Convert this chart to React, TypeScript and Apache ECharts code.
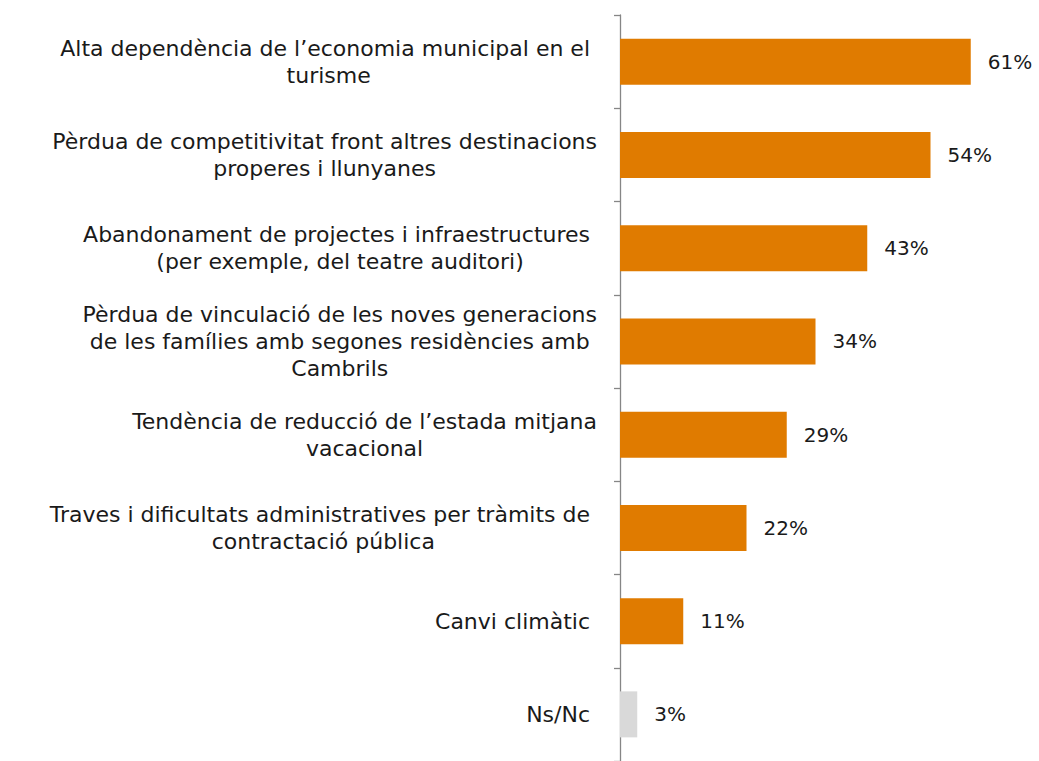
import React, { useEffect, useRef } from "react";
import * as echarts from "echarts";

const categories: string[] = [
  "Alta dependència de l’economia municipal en el \nturisme",
  "Pèrdua de competitivitat front altres destinacions\nproperes i llunyanes",
  "Abandonament de projectes i infraestructures \n(per exemple, del teatre auditori)",
  "Pèrdua de vinculació de les noves generacions\nde les famílies amb segones residències amb\nCambrils",
  "Tendència de reducció de l’estada mitjana\nvacacional",
  "Traves i dificultats administratives per tràmits de \ncontractació pública",
  "Canvi climàtic ",
  "Ns/Nc ",
];
const values: number[] = [61, 54, 43, 34, 29, 22, 11, 3];
const barColors: string[] = ["#E07B00", "#E07B00", "#E07B00", "#E07B00", "#E07B00", "#E07B00", "#E07B00", "#D9D9D9"];

const FONT = "'DejaVu Sans', sans-serif";

export default function App() {
  const ref = useRef<HTMLDivElement>(null);
  useEffect(() => {
    if (!ref.current) return;
    const chart = echarts.init(ref.current, undefined, { renderer: "svg" });
    chart.setOption({
      animation: false,
      backgroundColor: "#ffffff",
      grid: { left: 620, top: 15, width: 402.5, height: 750, containLabel: false },
      xAxis: { type: "value", min: 0, max: 70, show: false },
      yAxis: {
        type: "category",
        inverse: true,
        data: categories,
        axisLine: { show: true, lineStyle: { color: "#868686", width: 1.3 } },
        axisTick: { show: true, length: 6, lineStyle: { color: "#868686", width: 1.3 } },
        axisLabel: {
          margin: 23,
          align: "right",
          color: "#1a1a1a",
          fontFamily: FONT,
          fontSize: 22,
          lineHeight: 27,
          formatter: (v: string) => v.split("\n").map((l) => "{c|" + l + "}").join("\n"),
          rich: { c: { align: "center", fontFamily: FONT, fontSize: 22, lineHeight: 27, color: "#1a1a1a" } },
        },
        splitLine: { show: false },
      },
      series: [
        {
          type: "bar",
          barWidth: 46,
          data: values.map((v, i) => ({ value: v, itemStyle: { color: barColors[i] } })),
          label: {
            show: true,
            position: "right",
            distance: 17,
            formatter: "{c}%",
            color: "#1a1a1a",
            fontFamily: FONT,
            fontSize: 20,
          },
        },
      ],
    });
    return () => chart.dispose();
  }, []);
  return <div ref={ref} style={{ position: "fixed", left: 0, top: 0, width: 1039, height: 761 }} />;
}
